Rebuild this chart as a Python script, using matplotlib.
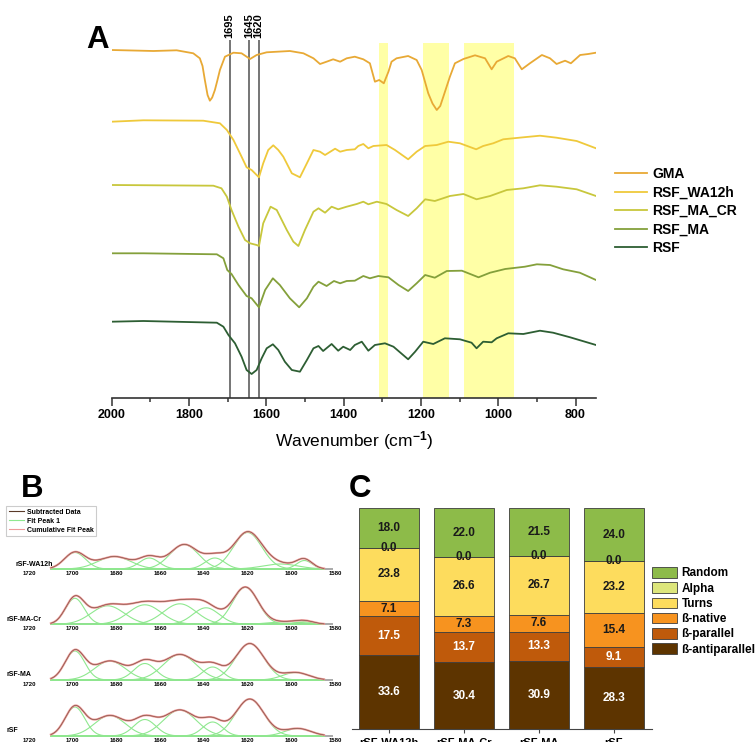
import matplotlib
matplotlib.use("Agg")
import matplotlib.pyplot as plt
import numpy as np
from matplotlib.lines import Line2D
from matplotlib.patches import Patch
from matplotlib.ticker import MultipleLocator

plt.rcParams['font.family'] = ['Liberation Sans', 'DejaVu Sans']
plt.rcParams['font.weight'] = 'bold'
plt.rcParams['mathtext.fontset'] = 'custom'
plt.rcParams['mathtext.rm'] = 'Liberation Sans:bold'
plt.rcParams['mathtext.default'] = 'rm'

# ---------------- A: FTIR spectra (stacked, offset traces) ----------------
gma_wn = [2000, 1892, 1832, 1789, 1772, 1765, 1759, 1752, 1746, 1740, 1733, 1727, 1720, 1707,
          1685, 1664, 1642, 1625, 1599, 1539, 1504, 1478, 1461, 1444, 1427, 1409, 1392, 1371,
          1349, 1332, 1319, 1308, 1296, 1284, 1276, 1263, 1233, 1211, 1198, 1181, 1170, 1159,
          1150, 1142, 1125, 1112, 1090, 1060, 1034, 1017, 1004, 974, 957, 939, 918, 887, 866,
          849, 827, 812, 788, 767, 747]
gma_t = [50, 51, 50.3, 53.3, 58.3, 66, 80, 95, 100.7, 97.5, 90, 81, 70, 56.7,
         52.7, 53.3, 59, 55, 52.3, 51, 53.3, 58.3, 64, 61.7, 59.3, 61.7, 58.3, 56.7,
         59.3, 63.3, 81.7, 80, 83.3, 71.7, 61.7, 58.3, 56, 60, 70, 93.3, 103.5, 110,
         106, 96.7, 76.7, 63.3, 59, 55.3, 58.3, 69.3, 61.7, 56, 58.3, 69.3, 63.3, 55, 58.3,
         64, 60.7, 63.3, 55, 54, 52.7]

wa12h_wn = [2000, 1918, 1763, 1720, 1702, 1685, 1664, 1651, 1638, 1619, 1608, 1595, 1582,
            1569, 1556, 1534, 1513, 1495, 1478, 1461, 1448, 1422, 1409, 1392, 1371, 1362,
            1349, 1336, 1323, 1289, 1267, 1233, 1211, 1189, 1159, 1129, 1099, 1057, 1039,
            1013, 987, 935, 892, 849, 797, 747]
wa12h_t = [121.7, 120.3, 120.7, 123.3, 130, 140, 156.7, 167.3, 170, 177.3, 163.3, 150, 145.3,
           150, 156.7, 173.3, 177.3, 163.3, 150, 151.7, 155, 148.7, 151.7, 150, 149.3, 146,
           144, 148.3, 146, 145, 150, 159.3, 151.7, 146, 145, 141.7, 143.3, 149.3, 146,
           143.3, 139.3, 137.3, 135.7, 137.7, 141, 148.3]

macr_wn = [2000, 1737, 1716, 1702, 1690, 1672, 1655, 1642, 1625, 1619, 1608, 1589, 1573,
           1547, 1530, 1517, 1500, 1478, 1465, 1448, 1431, 1414, 1392, 1366, 1349, 1336,
           1314, 1289, 1263, 1233, 1211, 1189, 1164, 1125, 1090, 1056, 1021, 978, 935,
           892, 849, 797, 747]
macr_t = [185, 185.7, 188.3, 196.7, 210, 226.7, 240, 243.3, 245, 246, 223.3, 206.7, 210,
          230, 241.7, 246, 230, 211.7, 208.3, 212.7, 206.7, 209.3, 206.7, 204, 201.7, 204.3,
          201.7, 204, 210, 216, 208.3, 199.3, 201, 196, 194, 199.3, 196, 190, 188.3,
          185.3, 186.7, 189.3, 196]

ma_wn = [2000, 1918, 1728, 1711, 1701, 1690, 1672, 1651, 1638, 1619, 1603, 1583, 1565,
         1539, 1515, 1495, 1478, 1465, 1444, 1425, 1409, 1392, 1371, 1349, 1332, 1310,
         1284, 1258, 1233, 1211, 1189, 1164, 1133, 1094, 1051, 1021, 982, 931, 900, 866,
         832, 789, 747]
ma_t = [253.3, 253.3, 254.3, 258.3, 270, 274, 285, 296, 298.3, 307.3, 290, 278.3, 285,
        298.3, 307.3, 298.3, 286.7, 281.7, 286, 281, 283.3, 281, 280.7, 276, 278.3, 276,
        277.3, 285, 291, 283.3, 275, 277.7, 271, 270.7, 277.3, 272.7, 269, 266.7, 264.3, 265,
        269.3, 272.7, 280]

rsf_wn = [2000, 1918, 1728, 1711, 1698, 1681, 1664, 1651, 1638, 1625, 1612, 1599, 1583,
          1569, 1552, 1534, 1513, 1495, 1478, 1465, 1453, 1431, 1414, 1401, 1383, 1371,
          1353, 1336, 1319, 1293, 1271, 1246, 1233, 1215, 1194, 1168, 1138, 1099, 1069,
          1056, 1039, 1017, 1004, 974, 935, 892, 858, 814, 747]
rsf_t = [321.7, 321, 322.7, 326.7, 335, 343.3, 356.7, 370, 374, 370, 358.3, 348.3, 344.3,
         350, 361.7, 370, 371.7, 360, 348.3, 346, 351, 344, 350.7, 346.7, 350, 345,
         341.7, 350.7, 345, 343.3, 346.7, 355, 359.3, 351.7, 341.7, 344, 338.3, 339.3, 342.7,
         348.3, 341.7, 342.3, 338.3, 333.3, 334, 330.7, 332.7, 337.3, 345]

spectra = [
    ("GMA", gma_wn, gma_t, "#e8a935"),
    ("RSF_WA12h", wa12h_wn, wa12h_t, "#efc93b"),
    ("RSF_MA_CR", macr_wn, macr_t, "#c8c73c"),
    ("RSF_MA", ma_wn, ma_t, "#84a03b"),
    ("RSF", rsf_wn, rsf_t, "#2d5e33"),
]
marker_wn = [1695, 1645, 1620]
band_ranges = [(1308, 1285), (1194, 1127), (1088, 959)]

# ---------------- B: amide I deconvolution (centre, height, sigma) ----------------
b_samples = ["rSF-WA12h", "rSF-MA-Cr", "rSF-MA", "rSF"]
b_centers = [
    [1699, 1681, 1665, 1649, 1635, 1620, 1605, 1594],
    [1699, 1684, 1667, 1651, 1639, 1621, 1602, 1594],
    [1699, 1683, 1667, 1651, 1636, 1619, 1598],
    [1699, 1683, 1667, 1651, 1636, 1619, 1597],
]
b_heights = [
    [16.5, 12.5, 11, 24.5, 11, 36.5, 5, 8.5],
    [26, 18.5, 19.5, 20.5, 16.5, 37, 2.5, 2.5],
    [29, 19, 16.5, 25.5, 13, 36.5, 7.5],
    [29, 20.5, 16.5, 26, 14, 37, 7.5],
]
b_sigmas = [
    [4.8, 7.5, 4.5, 6.5, 4.5, 6.5, 8, 3.5],
    [4.3, 7.5, 7.5, 7.5, 6, 5.8, 8, 4],
    [4.5, 7, 5, 7.5, 4.5, 6.5, 6],
    [4.5, 7, 5, 7.5, 4.5, 6.5, 6],
]

# ---------------- C: secondary structure fractions (%) ----------------
c_samples = ["rSF-WA12h", "rSF-MA-Cr", "rSF-MA", "rSF"]
c_antiparallel = [33.6, 30.4, 30.9, 28.3]
c_parallel = [17.5, 13.7, 13.3, 9.1]
c_native = [7.1, 7.3, 7.6, 15.4]
c_turns = [23.8, 26.6, 26.7, 23.2]
c_alpha = [0.0, 0.0, 0.0, 0.0]
c_random = [18.0, 22.0, 21.5, 24.0]

W, H = 756, 742


def box(x0, y0, x1, y1):
    return [x0 / W, 1 - y1 / H, (x1 - x0) / W, (y1 - y0) / H]


fig = plt.figure(figsize=(W / 100, H / 100), dpi=100)

# ---- panel A ----
axA = fig.add_axes(box(111.7, 40, 596, 398))
for lo, hi in band_ranges:
    axA.axvspan(lo, hi, ymin=0, ymax=0.992, color="#ffffa6", lw=0, zorder=0)
for w in marker_wn:
    axA.axvline(w, color="#505050", lw=1.1, zorder=1)
    axA.text(w, 38.5, str(w), rotation=90, ha="center", va="bottom", fontsize=8,
             clip_on=False)
for name, wn, t, col in spectra:
    axA.plot(wn, t, color=col, lw=1.3, label=name, zorder=2, solid_joinstyle="round")
axA.set_xlim(2000, 747)
axA.set_ylim(398, 40)
for s in ["left", "right", "top"]:
    axA.spines[s].set_visible(False)
axA.spines["bottom"].set_color("#333333")
axA.spines["bottom"].set_linewidth(1.2)
axA.set_yticks([])
axA.xaxis.set_major_locator(MultipleLocator(200))
axA.xaxis.set_minor_locator(MultipleLocator(100))
axA.tick_params(axis="x", which="major", length=6, width=1.1, labelsize=9, pad=2,
                color="#333333")
axA.tick_params(axis="x", which="minor", length=3, width=1.1, color="#333333")
axA.set_xlabel("Wavenumber (cm$^{-1}$)", fontsize=12.5, labelpad=6)
axA.legend(loc="upper left", bbox_to_anchor=(615 / W, 1 - 167 / H),
           bbox_transform=fig.transFigure, frameon=False, fontsize=10,
           handlelength=2.3, handletextpad=0.36, labelspacing=0.33,
           borderpad=0, borderaxespad=0)
fig.text(86 / W, 1 - 48 / H, "A", fontsize=22.5, va="baseline", ha="left")

# ---- panel B ----
b_base = [569, 624.3, 680, 736]
b_label_x = [16, 6.7, 6.7, 6.7]
grid = np.linspace(1710, 1585, 400)
for i, name in enumerate(b_samples):
    ax = fig.add_axes(box(29, b_base[i] - 45, 335, b_base[i]))
    ax.patch.set_alpha(0)
    ax.hlines(0, 1710, 1581, color="#a3a3a3", lw=1.3, clip_on=False, zorder=1)
    total = np.zeros_like(grid)
    for c, h, s in zip(b_centers[i], b_heights[i], b_sigmas[i]):
        comp = h * np.exp(-0.5 * ((grid - c) / s) ** 2)
        total += comp
        ax.plot(grid, comp, color="#8fe88f", lw=0.8, clip_on=False, zorder=2)
    ax.plot(grid, total, color="#ee9a9a", lw=1.5, clip_on=False, zorder=3)
    ax.plot(grid, total, color="#5a3a28", lw=0.45, alpha=0.8, clip_on=False, zorder=4)
    ax.set_xlim(1720, 1580)
    ax.set_ylim(0, 45)
    for s in ax.spines.values():
        s.set_visible(False)
    ax.set_yticks([])
    ax.set_xticks(np.arange(1720, 1579, -20))
    ax.tick_params(axis="x", length=0, labelsize=4.3, pad=1.5)
    fig.text(b_label_x[i] / W, 1 - (b_base[i] - 5) / H, name, fontsize=5,
             ha="left", va="center")

b_handles = [Line2D([], [], color="#5a3a28", lw=0.8),
             Line2D([], [], color="#8fe88f", lw=0.8),
             Line2D([], [], color="#ee9a9a", lw=0.8)]
legB = fig.legend(b_handles, ["Subtracted Data", "Fit Peak 1", "Cumulative Fit Peak"],
                  loc="upper left", bbox_to_anchor=(3 / W, 1 - 503 / H), fontsize=5,
                  handlelength=2.2, handletextpad=0.4, labelspacing=0.3,
                  borderpad=0.3, fancybox=False, framealpha=1)
legB.get_frame().set_edgecolor("#cccccc")
legB.get_frame().set_linewidth(0.8)
fig.text(20.5 / W, 1 - 497 / H, "B", fontsize=22.5, va="baseline", ha="left")

# ---- panel C ----
axC = fig.add_axes(box(351.7, 508.3, 651.7, 729.3))
segments = [
    ("ß-antiparallel", c_antiparallel, "#5d3400", "white"),
    ("ß-parallel", c_parallel, "#bf5a0b", "white"),
    ("ß-native", c_native, "#f7931f", "#1a1a1a"),
    ("Turns", c_turns, "#fddc5d", "#1a1a1a"),
    ("Alpha", c_alpha, "#dde67b", "#1a1a1a"),
    ("Random", c_random, "#8dbb49", "#1a1a1a"),
]
x = np.arange(len(c_samples))
bottom = np.zeros(len(c_samples))
handles = []
for name, vals, col, tcol in segments:
    bars = axC.bar(x, vals, width=0.8, bottom=bottom, color=col,
                   edgecolor="#3c3c3c", linewidth=0.6, label=name)
    axC.bar_label(bars, fmt="%.1f", label_type="center", color=tcol, fontsize=8.5)
    bottom += np.array(vals)
    handles.append(Patch(facecolor=col, edgecolor="#3c3c3c", linewidth=0.6, label=name))
axC.set_xlim(-0.495, 3.505)
axC.set_ylim(0, 100)
for s in ["left", "right", "top"]:
    axC.spines[s].set_visible(False)
axC.spines["bottom"].set_color("#444444")
axC.set_yticks([])
axC.set_xticks(x, c_samples)
axC.tick_params(axis="x", length=3, labelsize=8, pad=3, color="#444444")
axC.legend(handles[::-1], [h.get_label() for h in handles[::-1]], loc="upper left",
           bbox_to_anchor=(652 / W, 1 - 567 / H), bbox_transform=fig.transFigure,
           frameon=False, fontsize=8.5, handlelength=2.1, handleheight=1.0,
           handletextpad=0.4, labelspacing=0.25, borderpad=0, borderaxespad=0)
fig.text(349 / W, 1 - 497 / H, "C", fontsize=22.5, va="baseline", ha="left")

fig.savefig("out.png", dpi=100)
